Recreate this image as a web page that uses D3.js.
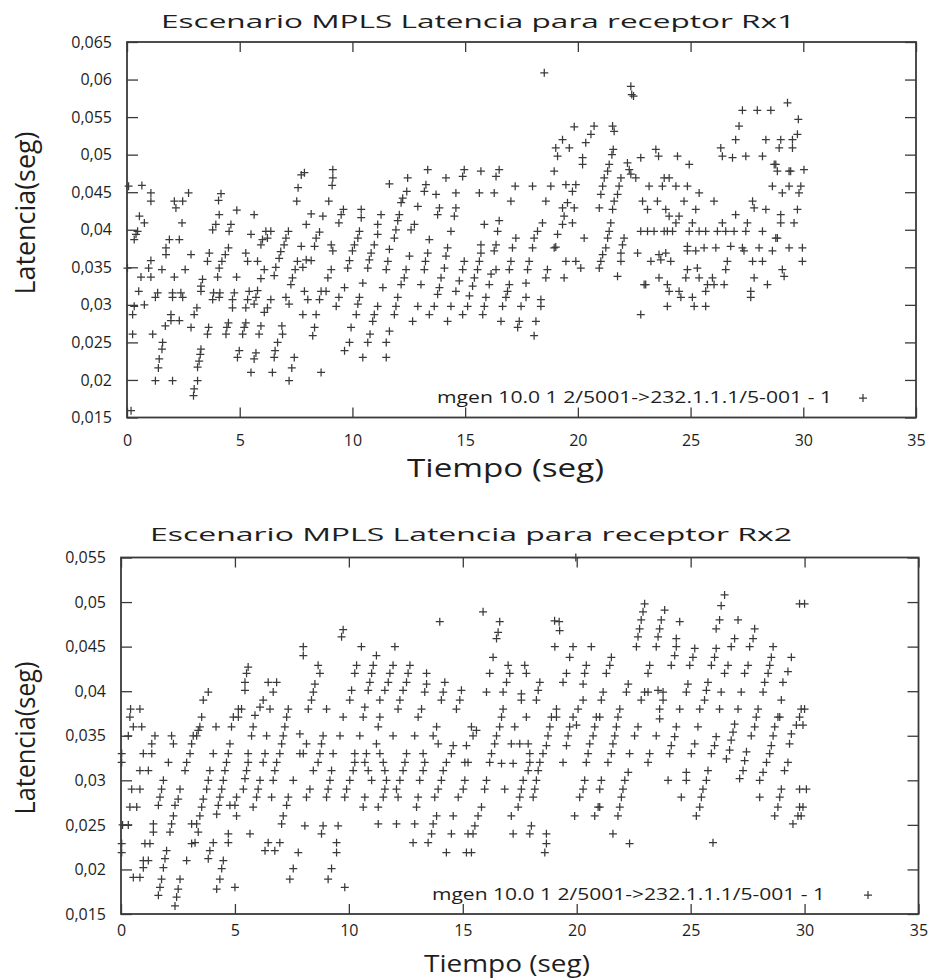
<!DOCTYPE html>
<html>
<head>
<meta charset="utf-8">
<script src="https://cdn.jsdelivr.net/npm/d3@7"></script>
<style>
  body { margin: 0; background: #fff; }
  text { font-family: "Open Sans", "Noto Sans", sans-serif; fill: #1e1e1e; }
</style>
</head>
<body>
<svg id="chart" width="933" height="979"></svg>
<script>
// ---- data ----
const xTicks = [0, 5, 10, 15, 20, 25, 30, 35]
const yTicksRx1 = [0.015, 0.02, 0.025, 0.03, 0.035, 0.04, 0.045, 0.05, 0.055, 0.06, 0.065]
const yTicksRx2 = [0.015, 0.02, 0.025, 0.03, 0.035, 0.04, 0.045, 0.05, 0.055]
const legendLabel = 'mgen 10.0 1 2/5001->232.1.1.1/5-001 - 1'

// [tiempo (s), latencia (s)]
const rx1Points = [
  [0.07,0.0458],[0.02,0.0349],[0.25,0.0261],[0.25,0.0287],[0.32,0.0298],[0.18,0.0159],[0.32,0.0387],[0.40,0.0394],[0.47,0.0398],[0.52,0.0318],
  [0.66,0.0459],[0.55,0.0418],[0.77,0.0409],[0.62,0.0337],[1.06,0.0337],[0.77,0.0300],[1.06,0.0359],[0.96,0.0349],[1.06,0.0449],[1.06,0.0438],
  [1.14,0.0261],[1.26,0.0310],[1.36,0.0316],[1.58,0.0250],[1.55,0.0241],[1.43,0.0228],[1.39,0.0216],[1.26,0.0199],[1.55,0.0347],
  [1.73,0.0367],[1.73,0.0376],[1.88,0.0387],[2.32,0.0387],[2.10,0.0438],[2.17,0.0429],[2.47,0.0438],[2.73,0.0449],[2.44,0.0409],[2.02,0.0199],
  [1.70,0.0272],[1.95,0.0287],[1.95,0.0279],[2.32,0.0279],[2.02,0.0316],[2.02,0.0310],[2.39,0.0316],[2.47,0.0310],[2.10,0.0337],[2.58,0.0347],[2.84,0.0367],[2.84,0.0270],
  [2.95,0.0179],[2.98,0.0188],[3.13,0.0199],[3.13,0.0217],[3.20,0.0225],[3.25,0.0234],[3.28,0.0241],[2.98,0.0287],[3.10,0.0296],[3.28,0.0318],[3.28,0.0325],[3.35,0.0334],
  [3.57,0.0358],[3.65,0.0369],[3.57,0.0261],[3.62,0.0270],[3.80,0.0307],[3.84,0.0316],[3.80,0.0400],[3.94,0.0407],[4.09,0.0420],[4.06,0.0439],[4.17,0.0448],
  [4.02,0.0337],[4.09,0.0349],[4.21,0.0358],[4.36,0.0367],[4.50,0.0376],[4.09,0.0310],[4.12,0.0316],[4.39,0.0261],[4.43,0.0270],[4.50,0.0276],
  [4.53,0.0398],[4.61,0.0407],[4.87,0.0426],[4.68,0.0307],[4.76,0.0316],[4.68,0.0296],[4.86,0.0337],[4.90,0.0230],[4.98,0.0239],
  [5.13,0.0261],[5.20,0.0270],[5.27,0.0276],[5.35,0.0307],[5.42,0.0318],[5.27,0.0296],[5.35,0.0358],[5.27,0.0369],[5.50,0.0394],[5.64,0.0420],
  [5.50,0.0210],[5.64,0.0228],[5.72,0.0236],[5.86,0.0261],[5.94,0.0272],[5.79,0.0358],[5.94,0.0380],[6.01,0.0387],[5.64,0.0301],[5.72,0.0310],[5.79,0.0319],[5.94,0.0335],[6.09,0.0347],
  [6.16,0.0398],[6.23,0.0389],[6.38,0.0398],[6.09,0.0290],[6.23,0.0296],[6.38,0.0307],[6.45,0.0210],[6.53,0.0230],[6.57,0.0239],[6.68,0.0250],
  [6.53,0.0339],[6.60,0.0350],[6.75,0.0362],[6.82,0.0371],[6.97,0.0380],[7.05,0.0389],[7.16,0.0398],[6.90,0.0261],[6.87,0.0272],[7.05,0.0310],[7.19,0.0301],
  [7.19,0.0199],[7.31,0.0216],[7.42,0.0230],[7.27,0.0327],[7.34,0.0336],[7.46,0.0347],[7.56,0.0358],[7.53,0.0438],[7.59,0.0456],
  [7.73,0.0473],[7.87,0.0476],[9.13,0.0480],[9.13,0.0469],[9.10,0.0459],[8.95,0.0438],[8.17,0.0421],[8.69,0.0418],[7.95,0.0407],[8.54,0.0397],[8.39,0.0389],[7.73,0.0378],[8.32,0.0378],[7.95,0.0360],[8.17,0.0359],[7.80,0.0350],
  [9.06,0.0380],[9.13,0.0372],[9.40,0.0409],[9.50,0.0420],[9.60,0.0427],[8.91,0.0336],[9.06,0.0347],[8.83,0.0318],[7.87,0.0318],[8.61,0.0318],[8.02,0.0307],[8.54,0.0307],[7.80,0.0287],[8.39,0.0287],[8.32,0.0270],[8.24,0.0259],[8.61,0.0210],
  [9.28,0.0298],[9.40,0.0310],[9.65,0.0323],[9.79,0.0349],[9.87,0.0359],[10.00,0.0372],[10.09,0.0380],[10.24,0.0389],[10.31,0.0398],[10.39,0.0416],[10.39,0.0427],
  [9.65,0.0239],[9.87,0.0250],[9.94,0.0270],[10.17,0.0287],[10.24,0.0301],[10.31,0.0310],[10.46,0.0329],[10.46,0.0230],[10.68,0.0250],[10.78,0.0261],[10.90,0.0278],[10.97,0.0287],[11.12,0.0298],
  [10.68,0.0349],[10.75,0.0360],[10.83,0.0369],[10.97,0.0380],[11.12,0.0394],[11.12,0.0407],[11.27,0.0420],[11.35,0.0323],[11.50,0.0347],[11.57,0.0358],[11.64,0.0374],[11.86,0.0389],[11.93,0.0400],[12.01,0.0412],[12.08,0.0420],[12.16,0.0436],[12.23,0.0442],[12.41,0.0451],[12.45,0.0469],
  [11.50,0.0250],[11.50,0.0230],[11.64,0.0265],[11.86,0.0287],[11.93,0.0298],[12.01,0.0310],[12.16,0.0327],[12.30,0.0336],[12.38,0.0347],[12.53,0.0365],[11.64,0.0461],
  [12.67,0.0278],[12.90,0.0298],[13.04,0.0327],[13.19,0.0347],[13.24,0.0358],[13.34,0.0369],[13.41,0.0387],[12.60,0.0400],[12.75,0.0407],[12.90,0.0431],[13.19,0.0451],[13.34,0.0480],[13.26,0.0460],
  [13.41,0.0287],[13.63,0.0298],[13.78,0.0314],[13.86,0.0323],[13.93,0.0336],[14.08,0.0349],[14.15,0.0365],[14.22,0.0376],[14.37,0.0398],[14.52,0.0418],[14.59,0.0429],[14.59,0.0449],[14.89,0.0471],[14.96,0.0480],
  [14.22,0.0278],[14.37,0.0298],[14.59,0.0318],[14.74,0.0332],[14.89,0.0347],[14.96,0.0358],[13.78,0.0420],[13.86,0.0429],[14.15,0.0469],[13.71,0.0447],
  [14.89,0.0287],[15.11,0.0298],[15.19,0.0312],[15.33,0.0325],[15.41,0.0336],[15.55,0.0347],[15.63,0.0358],[15.70,0.0369],[15.70,0.0380],[15.85,0.0407],[15.63,0.0449],[15.70,0.0478],
  [15.78,0.0287],[15.85,0.0298],[15.92,0.0310],[16.07,0.0327],[16.15,0.0341],[16.37,0.0347],[16.29,0.0372],[16.37,0.0380],[16.44,0.0398],[16.51,0.0412],[16.29,0.0449],[16.37,0.0471],[16.51,0.0480],
  [16.59,0.0278],[16.66,0.0298],[16.81,0.0310],[16.88,0.0318],[16.96,0.0327],[16.96,0.0347],[17.03,0.0358],[17.10,0.0376],[17.25,0.0389],[17.03,0.0438],[17.22,0.0458],
  [17.33,0.0270],[17.40,0.0278],[17.48,0.0298],[17.70,0.0310],[17.70,0.0329],[17.77,0.0347],[17.84,0.0358],[17.99,0.0376],[18.06,0.0389],[18.21,0.0398],[18.43,0.0409],[18.58,0.0438],[18.80,0.0458],[18.95,0.0478],[17.99,0.0458],
  [18.06,0.0259],[18.14,0.0278],[18.36,0.0298],[18.36,0.0307],[18.58,0.0336],[18.65,0.0347],[18.95,0.0376],[19.10,0.0394],[19.32,0.0407],[19.39,0.0418],[19.76,0.0451],[18.51,0.0609],
  [19.10,0.0498],[19.02,0.0509],[19.32,0.0520],[19.84,0.0537],[19.62,0.0509],[20.21,0.0487],[20.21,0.0496],[20.35,0.0516],[20.58,0.0527],[20.72,0.0538],
  [19.47,0.0460],[19.91,0.0460],[19.54,0.0436],[19.32,0.0429],[19.84,0.0429],[19.76,0.0409],[20.28,0.0389],[19.91,0.0358],[20.13,0.0349],[19.47,0.0358],[19.39,0.0336],[19.02,0.0377],[20.95,0.0429],[20.95,0.0349],
  [22.35,0.0591],[22.39,0.0580],[22.47,0.0578],[21.54,0.0538],[21.61,0.0531],[21.57,0.0507],[21.51,0.0500],[21.39,0.0487],[21.32,0.0478],[21.17,0.0469],[21.10,0.0458],[21.02,0.0447],
  [22.20,0.0489],[22.28,0.0480],[22.35,0.0474],[22.57,0.0469],[22.79,0.0496],[23.46,0.0507],[23.58,0.0498],[24.42,0.0498],[24.94,0.0487],
  [21.91,0.0469],[21.83,0.0458],[21.76,0.0447],[21.61,0.0438],[21.54,0.0427],[21.46,0.0409],[21.39,0.0398],[21.32,0.0389],[21.24,0.0376],[21.10,0.0367],[21.02,0.0358],
  [22.05,0.0389],[21.98,0.0380],[21.91,0.0369],[21.91,0.0358],[21.76,0.0338],[22.65,0.0369],[22.94,0.0327],[22.79,0.0287],
  [23.16,0.0458],[23.24,0.0358],[23.60,0.0336],[23.68,0.0360],[23.90,0.0369],[23.75,0.0458],[23.83,0.0469],[24.05,0.0469],[24.35,0.0458],[24.86,0.0458],[25.38,0.0449],
  [22.87,0.0438],[23.09,0.0427],[23.53,0.0438],[23.90,0.0427],[24.05,0.0418],[24.49,0.0418],[24.35,0.0409],[24.20,0.0398],
  [22.79,0.0398],[23.09,0.0398],[23.38,0.0398],[23.83,0.0398],[23.97,0.0398],[24.71,0.0438],[24.94,0.0398],[25.08,0.0409],[25.23,0.0427],[25.38,0.0398],[25.67,0.0398],[26.04,0.0438],[26.19,0.0398],[26.41,0.0409],[26.56,0.0398],[26.93,0.0398],[27.00,0.0420],[27.45,0.0398],[27.52,0.0409],[27.75,0.0438],[27.82,0.0429],[28.19,0.0398],[28.34,0.0427],[28.78,0.0389],[29.00,0.0420],[29.00,0.0409],[29.59,0.0409],[29.74,0.0427],[29.81,0.0449],[29.89,0.0458],[30.03,0.0480],[29.37,0.0458],[29.44,0.0478],[29.07,0.0449],[28.63,0.0458],[28.71,0.0487],[28.93,0.0509],[29.00,0.0520],[29.52,0.0509],[29.52,0.0520],[29.74,0.0527],[29.78,0.0547],[29.30,0.0569],[28.56,0.0559],[27.96,0.0559],[27.30,0.0559],[27.15,0.0538],[27.00,0.0520],[26.34,0.0509],[26.41,0.0498],[26.86,0.0496],[27.45,0.0498],[28.19,0.0498],[28.34,0.0520],[28.78,0.0487],[28.85,0.0478],[29.37,0.0478],
  [24.86,0.0372],[24.86,0.0378],[25.23,0.0372],[25.60,0.0376],[26.12,0.0376],[26.78,0.0378],[27.30,0.0376],[28.04,0.0376],[29.37,0.0376],[29.96,0.0376],[29.96,0.0358],[28.63,0.0372],[27.75,0.0358],[28.19,0.0358],[27.37,0.0372],[26.63,0.0358],[26.56,0.0347],[24.86,0.0347],[25.30,0.0349],[25.38,0.0336],[25.75,0.0327],[25.97,0.0336],[26.04,0.0327],[26.49,0.0327],[24.79,0.0336],[24.12,0.0358],[23.60,0.0367],[23.01,0.0327],[23.97,0.0327],[24.05,0.0318],[24.49,0.0318],[24.57,0.0310],[25.08,0.0310],[25.16,0.0298],[25.67,0.0318],[25.67,0.0298],[23.97,0.0298],[27.67,0.0318],[27.67,0.0310],[27.82,0.0336],[28.41,0.0327],[29.07,0.0347],[29.15,0.0338],[28.85,0.0389]
]

const rx2Points = [
  [0.03,0.0330],[0.03,0.0320],[0.03,0.0229],[0.03,0.0219],[0.07,0.0250],[0.32,0.0250],[0.32,0.0350],[0.39,0.0371],[0.42,0.0380],[0.83,0.0380],[0.54,0.0360],[0.91,0.0360],[0.47,0.0290],[0.83,0.0290],[0.39,0.0270],[0.69,0.0270],[0.54,0.0191],[0.83,0.0191],[0.98,0.0202],[0.98,0.0210],[1.20,0.0210],[1.05,0.0229],[1.27,0.0229],[0.98,0.0330],[1.35,0.0330],[1.35,0.0341],[1.49,0.0350],[0.83,0.0311],[1.20,0.0311],
  [1.42,0.0251],[1.42,0.0242],[1.64,0.0171],[1.71,0.0180],[1.78,0.0189],[1.86,0.0202],[1.93,0.0212],[2.00,0.0221],[1.64,0.0272],[1.71,0.0281],[1.78,0.0290],[1.86,0.0300],[2.08,0.0320],[2.22,0.0350],[2.30,0.0341],
  [2.15,0.0242],[2.22,0.0251],[2.30,0.0260],[2.37,0.0272],[2.51,0.0279],[2.59,0.0290],[2.37,0.0159],[2.44,0.0169],[2.51,0.0178],[2.59,0.0189],[2.88,0.0210],[3.10,0.0229],[3.25,0.0230],[3.10,0.0251],[3.32,0.0251],[3.39,0.0242],
  [2.81,0.0311],[2.88,0.0320],[3.03,0.0330],[3.10,0.0341],[3.17,0.0350],[3.32,0.0350],[3.39,0.0356],[3.46,0.0360],[3.54,0.0371],[3.61,0.0390],[3.83,0.0399],
  [3.46,0.0260],[3.54,0.0270],[3.61,0.0279],[3.76,0.0290],[3.83,0.0300],[3.90,0.0311],[4.05,0.0330],[4.17,0.0360],[3.83,0.0212],[3.90,0.0221],[4.05,0.0230],
  [4.20,0.0178],[4.34,0.0189],[4.42,0.0201],[4.49,0.0210],[4.71,0.0240],[4.71,0.0230],[4.20,0.0262],[4.27,0.0272],[4.34,0.0281],[4.42,0.0290],[4.49,0.0300],[4.56,0.0311],[4.63,0.0320],[4.71,0.0330],[4.78,0.0341],[4.85,0.0360],[4.93,0.0371],[5.15,0.0371],[5.15,0.0380],[5.00,0.0180],
  [4.78,0.0272],[5.00,0.0272],[5.07,0.0260],[5.07,0.0281],[5.37,0.0290],[5.44,0.0302],[5.51,0.0311],[5.58,0.0320],[5.58,0.0330],[5.73,0.0350],[5.80,0.0360],[5.88,0.0373],[6.10,0.0382],[6.24,0.0390],[6.46,0.0410],[6.83,0.0410],[6.68,0.0399],
  [5.29,0.0380],[5.44,0.0401],[5.44,0.0410],[5.51,0.0420],[5.58,0.0427],[5.66,0.0240],[5.80,0.0270],[5.95,0.0281],[6.02,0.0290],[6.10,0.0300],[6.24,0.0320],[6.32,0.0330],[6.39,0.0350],[6.54,0.0380],[6.32,0.0221],[6.46,0.0230],[6.75,0.0221],[6.97,0.0230],
  [6.61,0.0281],[6.68,0.0300],[6.75,0.0311],[6.83,0.0320],[6.97,0.0330],[7.05,0.0341],[7.12,0.0350],[7.19,0.0360],[7.27,0.0371],[7.34,0.0380],[7.05,0.0251],[7.12,0.0260],[7.27,0.0272],[7.34,0.0281],[7.41,0.0189],[7.56,0.0201],[7.78,0.0219],[7.56,0.0300],[7.85,0.0330],
  [8.00,0.0450],[8.00,0.0440],[8.65,0.0429],[8.73,0.0420],[8.51,0.0408],[8.44,0.0399],[8.36,0.0390],[8.22,0.0380],[9.02,0.0380],[7.85,0.0352],[8.87,0.0350],[9.61,0.0350],[10.48,0.0350],[11.21,0.0341],[11.94,0.0350],[12.89,0.0350],[13.70,0.0350],[13.85,0.0360],[13.92,0.0341],[14.58,0.0339],[15.16,0.0339],[15.38,0.0360],[15.45,0.0350],[15.60,0.0356],
  [8.14,0.0341],[8.80,0.0341],[9.31,0.0330],[8.73,0.0330],[8.00,0.0330],[8.65,0.0320],[8.44,0.0311],[9.24,0.0311],[9.17,0.0300],[9.09,0.0290],[9.02,0.0281],[8.29,0.0290],[8.14,0.0281],[9.90,0.0290],[9.82,0.0281],[10.04,0.0300],[10.19,0.0311],[10.26,0.0320],[10.26,0.0330],
  [9.68,0.0461],[9.75,0.0469],[9.82,0.0180],[9.24,0.0201],[9.09,0.0189],[9.46,0.0230],[9.46,0.0219],[9.53,0.0249],[8.80,0.0240],[8.87,0.0249],[8.07,0.0249],
  [9.75,0.0371],[10.04,0.0390],[10.12,0.0401],[10.26,0.0420],[10.34,0.0429],[10.55,0.0450],[10.63,0.0371],[10.70,0.0382],[10.85,0.0401],[10.92,0.0410],[11.00,0.0420],[11.07,0.0429],[11.21,0.0440],[11.36,0.0390],[11.36,0.0371],[11.29,0.0360],[11.58,0.0401],[11.73,0.0410],[11.80,0.0420],[11.94,0.0429],[12.02,0.0450],[12.16,0.0380],[12.24,0.0390],[12.38,0.0401],[12.53,0.0410],[12.60,0.0420],[12.68,0.0429],[13.04,0.0371],[13.19,0.0380],[13.33,0.0399],[13.41,0.0408],[13.41,0.0420],[13.99,0.0478],[14.06,0.0390],[14.14,0.0399],[14.21,0.0410],[14.72,0.0380],[14.87,0.0390],[14.94,0.0401],
  [15.89,0.0489],[16.48,0.0459],[16.55,0.0466],[16.62,0.0478],[16.33,0.0438],[16.18,0.0420],[16.99,0.0429],[17.06,0.0420],[16.92,0.0410],[17.72,0.0429],[17.79,0.0420],[16.04,0.0399],[16.77,0.0399],[17.57,0.0397],[17.57,0.0390],[18.38,0.0410],[18.31,0.0401],[18.23,0.0390],
  [19.04,0.0450],[19.03,0.0479],[19.23,0.0478],[19.25,0.0468],[19.84,0.0450],[20.64,0.0450],[19.69,0.0438],[19.55,0.0420],[19.40,0.0410],[20.42,0.0429],[20.35,0.0420],[20.28,0.0408],[20.28,0.0390],[20.06,0.0380],[19.11,0.0380],[19.11,0.0371],
  [10.77,0.0330],[10.70,0.0320],[10.85,0.0311],[11.00,0.0300],[10.70,0.0281],[10.63,0.0270],[11.29,0.0270],[11.36,0.0330],[11.51,0.0320],[11.58,0.0311],[11.65,0.0300],[11.58,0.0290],[11.51,0.0281],[12.16,0.0281],[12.09,0.0290],[12.24,0.0300],[12.38,0.0311],[12.46,0.0320],[12.53,0.0330],
  [13.26,0.0330],[13.33,0.0320],[13.26,0.0311],[13.11,0.0300],[13.04,0.0281],[12.97,0.0270],[12.89,0.0251],[12.82,0.0230],[13.48,0.0230],[13.63,0.0240],[13.70,0.0251],[13.85,0.0260],[13.77,0.0281],[13.92,0.0290],[14.06,0.0300],[14.14,0.0311],[14.28,0.0320],[14.50,0.0330],
  [14.28,0.0219],[14.50,0.0240],[14.58,0.0260],[14.80,0.0281],[15.02,0.0290],[15.09,0.0300],[15.09,0.0320],[15.23,0.0320],[15.23,0.0240],[15.16,0.0219],[15.38,0.0219],[15.45,0.0240],[15.53,0.0249],[15.67,0.0260],[15.82,0.0270],[15.96,0.0290],[16.04,0.0300],[16.18,0.0320],[16.26,0.0330],[16.40,0.0341],[16.48,0.0350],[16.62,0.0360],[16.70,0.0371],[16.77,0.0380],
  [17.21,0.0319],[17.13,0.0260],[17.21,0.0240],[17.43,0.0270],[17.50,0.0281],[17.57,0.0290],[17.65,0.0300],[17.87,0.0311],[17.94,0.0320],[17.94,0.0240],[18.01,0.0249],[18.09,0.0281],[18.16,0.0290],[18.23,0.0300],[18.31,0.0311],[18.38,0.0320],[18.52,0.0330],[18.67,0.0339],[18.74,0.0350],[18.82,0.0360],[18.89,0.0371],
  [16.84,0.0290],[16.70,0.0319],[17.13,0.0341],[17.50,0.0341],[17.87,0.0341],[17.94,0.0330],[17.79,0.0371],[17.28,0.0360],[18.67,0.0240],[18.67,0.0229],[18.60,0.0219],
  [19.40,0.0320],[19.55,0.0339],[19.62,0.0350],[19.69,0.0360],[19.84,0.0371],[19.99,0.0362],[19.91,0.0260],[20.13,0.0281],[20.28,0.0290],[20.35,0.0300],[20.42,0.0320],[20.50,0.0330],[20.57,0.0341],[20.72,0.0350],[20.79,0.0360],[20.86,0.0371],[20.79,0.0260],[20.94,0.0270],[21.01,0.0290],
  [11.29,0.0251],[12.09,0.0251],[19.96,0.0550],
  [22.98,0.0498],[22.91,0.0489],[22.83,0.0480],[22.76,0.0470],[22.69,0.0461],[22.62,0.0450],[23.86,0.0491],[23.71,0.0480],[23.64,0.0470],[23.57,0.0461],[23.49,0.0450],
  [24.52,0.0478],[24.37,0.0459],[24.37,0.0450],[24.30,0.0440],[24.15,0.0429],[25.18,0.0448],[25.10,0.0438],[24.96,0.0429],[24.88,0.0408],[24.81,0.0399],
  [26.12,0.0448],[26.05,0.0438],[25.91,0.0429],[25.76,0.0410],[25.69,0.0401],[25.61,0.0390],[25.40,0.0380],[26.49,0.0508],[26.34,0.0496],[26.27,0.0480],[26.12,0.0470],
  [27.08,0.0480],[26.93,0.0459],[26.78,0.0450],[26.64,0.0429],[26.49,0.0420],[26.34,0.0399],[26.27,0.0380],[27.81,0.0470],[27.74,0.0459],[27.59,0.0450],[27.52,0.0429],[27.37,0.0420],[27.22,0.0399],[27.08,0.0380],
  [28.62,0.0450],[28.54,0.0438],[28.47,0.0429],[28.40,0.0420],[28.25,0.0410],[28.18,0.0399],[27.96,0.0380],[29.42,0.0438],[29.27,0.0422],[29.05,0.0410],[28.98,0.0390],[28.91,0.0371],
  [29.78,0.0498],[30.00,0.0498],[29.85,0.0380],[30.00,0.0380],[29.78,0.0371],[29.93,0.0362],[29.64,0.0362],
  [21.52,0.0438],[21.45,0.0429],[21.30,0.0420],[21.16,0.0399],[21.08,0.0390],[22.26,0.0408],[22.18,0.0399],[21.89,0.0380],[22.83,0.0390],[22.98,0.0399],[23.13,0.0399],[23.20,0.0429],[23.13,0.0420],[23.57,0.0401],[23.79,0.0399],[23.79,0.0390],[23.64,0.0380],[23.64,0.0369],[24.52,0.0380],
  [21.81,0.0371],[21.74,0.0360],[21.67,0.0350],[21.59,0.0341],[21.52,0.0330],[21.37,0.0320],[21.01,0.0371],[22.69,0.0360],[22.54,0.0350],[22.32,0.0330],[23.20,0.0330],[23.13,0.0320],[23.49,0.0350],
  [24.37,0.0360],[24.30,0.0349],[24.15,0.0339],[24.08,0.0330],[25.32,0.0360],[25.18,0.0341],[25.03,0.0330],[26.12,0.0349],[26.05,0.0339],[25.91,0.0330],
  [26.93,0.0363],[26.86,0.0354],[26.78,0.0345],[26.71,0.0334],[26.57,0.0324],[27.88,0.0371],[27.81,0.0360],[27.66,0.0350],[27.45,0.0332],[27.37,0.0322],[27.30,0.0311],[27.15,0.0302],
  [28.83,0.0371],[28.69,0.0360],[28.62,0.0350],[28.54,0.0339],[28.47,0.0330],[28.33,0.0320],[28.18,0.0309],[28.03,0.0300],
  [29.42,0.0352],[29.34,0.0341],[29.27,0.0320],[29.12,0.0311],[28.98,0.0290],[28.91,0.0281],[28.83,0.0270],[28.69,0.0260],
  [29.78,0.0290],[30.08,0.0290],[29.78,0.0270],[29.93,0.0270],[29.71,0.0260],[29.85,0.0260],[29.49,0.0251],
  [22.26,0.0309],[22.11,0.0300],[22.03,0.0290],[21.96,0.0281],[21.89,0.0270],[21.81,0.0260],[21.59,0.0240],[22.32,0.0229],[21.08,0.0300],[21.01,0.0270],
  [24.01,0.0300],[24.81,0.0309],[24.81,0.0300],[24.59,0.0281],[25.76,0.0311],[25.69,0.0300],[25.54,0.0290],[25.47,0.0281],[25.40,0.0270],[25.25,0.0260],[25.98,0.0230],[28.03,0.0281]
]

// ---- drawing ----
const svg = d3.select('#chart')
const ink = '#3a3a3a'
const esLocale = d3.formatLocale({ decimal: ',', thousands: '.', grouping: [3], currency: ['', ''] })
const yFormat = esLocale.format('~g')
const plusPath = 'M-4,0H4M0,-4V4'

const panels = [
  {
    points: rx1Points, yTicks: yTicksRx1, yDomain: [0.015, 0.065],
    left: 127, right: 916, top: 42, bottom: 417.5, xTickPad: 17,
    title: 'Escenario MPLS Latencia para receptor Rx1', titleX: 161, titleY: 28, titleLen: 634,
    yLabelX: 35, yLabelY: 213, yLabelLen: 163,
    xLabelX: 407, xLabelY: 477, xLabelLen: 197, xLabelSize: 25,
    legendX: 437, legendY: 403, legendLen: 395, legendMarkX: 863
  },
  {
    points: rx2Points, yTicks: yTicksRx2, yDomain: [0.015, 0.055],
    left: 121, right: 918.5, top: 557.5, bottom: 914, xTickPad: 11,
    title: 'Escenario MPLS Latencia para receptor Rx2', titleX: 150, titleY: 541, titleLen: 642,
    yLabelX: 35, yLabelY: 738, yLabelLen: 153,
    xLabelX: 424, xLabelY: 972, xLabelLen: 166, xLabelSize: 23,
    legendX: 432, legendY: 900, legendLen: 393, legendMarkX: 868
  }
]

const styleAxis = (sel, showText) => {
  sel.select('.domain').remove()
  sel.selectAll('.tick line').attr('stroke', ink).attr('stroke-width', 1.3)
  sel.selectAll('.tick text')
    .attr('fill', '#1e1e1e')
    .style('font-family', '"Open Sans", sans-serif')
    .style('font-size', '16px')
  if (!showText) sel.selectAll('.tick text').remove()
}

panels.forEach(p => {
  const xScale = d3.scaleLinear().domain([0, 35]).range([p.left, p.right])
  const yScale = d3.scaleLinear().domain(p.yDomain).range([p.bottom, p.top])

  const g = svg.append('g')

  // axes on all four sides, ticks pointing inward
  g.append('g').attr('transform', `translate(0,${p.bottom})`)
    .call(d3.axisBottom(xScale).tickValues(xTicks).tickSizeInner(-10).tickSizeOuter(0).tickPadding(p.xTickPad))
    .call(styleAxis, true)
  g.append('g').attr('transform', `translate(0,${p.top})`)
    .call(d3.axisTop(xScale).tickValues(xTicks).tickSizeInner(-10).tickSizeOuter(0))
    .call(styleAxis, false)
  g.append('g').attr('transform', `translate(${p.left},0)`)
    .call(d3.axisLeft(yScale).tickValues(p.yTicks).tickFormat(yFormat).tickSizeInner(-11).tickSizeOuter(0).tickPadding(15))
    .call(styleAxis, true)
  g.append('g').attr('transform', `translate(${p.right},0)`)
    .call(d3.axisRight(yScale).tickValues(p.yTicks).tickSizeInner(-11).tickSizeOuter(0))
    .call(styleAxis, false)

  // frame
  g.append('rect')
    .attr('x', p.left).attr('y', p.top)
    .attr('width', p.right - p.left).attr('height', p.bottom - p.top)
    .attr('fill', 'none').attr('stroke', ink).attr('stroke-width', 1.8)

  // points
  g.append('g').selectAll('path')
    .data(p.points)
    .join('path')
    .attr('d', plusPath)
    .attr('transform', d => `translate(${xScale(d[0])},${yScale(d[1])})`)
    .attr('fill', 'none').attr('stroke', ink).attr('stroke-width', 1.25)

  // legend
  g.append('text')
    .attr('x', p.legendX).attr('y', p.legendY)
    .attr('textLength', p.legendLen).attr('lengthAdjust', 'spacingAndGlyphs')
    .style('font-size', '16px')
    .text(legendLabel)
  g.append('path')
    .attr('d', plusPath)
    .attr('transform', `translate(${p.legendMarkX},${p.legendY - 5})`)
    .attr('fill', 'none').attr('stroke', ink).attr('stroke-width', 1.25)

  // titles and axis labels
  g.append('text')
    .attr('x', p.titleX).attr('y', p.titleY)
    .attr('textLength', p.titleLen).attr('lengthAdjust', 'spacingAndGlyphs')
    .style('font-size', '18px')
    .text(p.title)
  g.append('text')
    .attr('transform', `translate(${p.yLabelX},${p.yLabelY}) rotate(-90)`)
    .attr('text-anchor', 'middle')
    .attr('textLength', p.yLabelLen).attr('lengthAdjust', 'spacingAndGlyphs')
    .style('font-size', '27px')
    .text('Latencia(seg)')
  g.append('text')
    .attr('x', p.xLabelX).attr('y', p.xLabelY)
    .attr('textLength', p.xLabelLen).attr('lengthAdjust', 'spacingAndGlyphs')
    .style('font-size', `${p.xLabelSize}px`)
    .text('Tiempo (seg)')
})
</script>
</body>
</html>
